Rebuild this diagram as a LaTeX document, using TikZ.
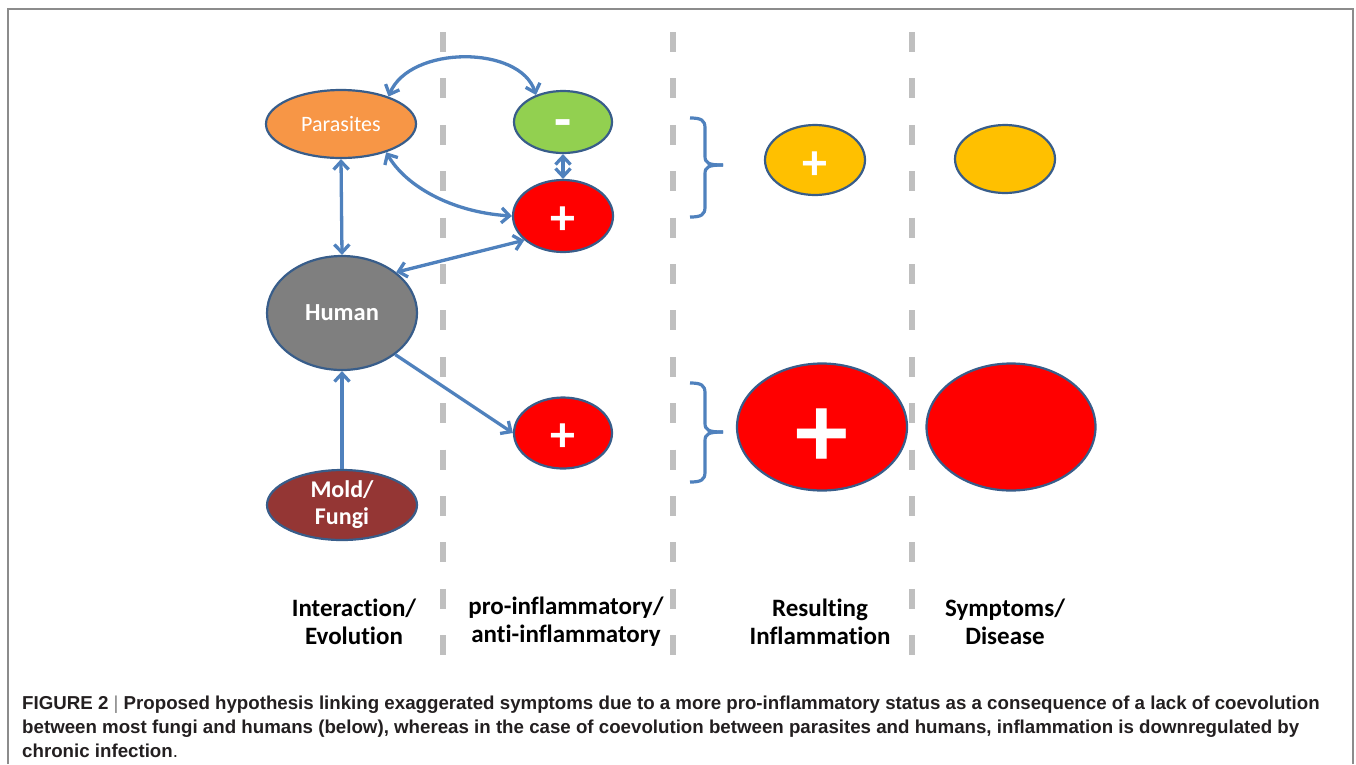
\documentclass[tikz,border=0pt]{standalone}
\usepackage{fontspec}
\setmainfont{Carlito}[Ligatures={NoCommon}]
\newfontfamily\capfont{Liberation Sans}
\usetikzlibrary{arrows.meta,shapes.geometric}
\definecolor{arrowblue}{HTML}{4F81BD}
\definecolor{outl}{HTML}{385D8A}
\definecolor{orangeP}{HTML}{F79646}
\definecolor{greenM}{HTML}{92D050}
\definecolor{redP}{HTML}{FF0000}
\definecolor{grayH}{HTML}{7F7F7F}
\definecolor{moldR}{HTML}{943634}
\definecolor{yellowP}{HTML}{FFC000}
\definecolor{dashgray}{HTML}{BFBFBF}
\definecolor{framegray}{HTML}{8C8C8C}
\definecolor{captext}{HTML}{231F20}
\newcommand{\plussign}[1]{\smash{\raisebox{#1}{+}}}
\newcommand{\minussign}[1]{\smash{\raisebox{#1}{-}}}
\tikzset{
  ell/.style={ellipse, draw=outl, line width=2.2pt, inner sep=0pt, text=white},
  conn/.style={draw=arrowblue, line width=3.3pt},
  tipb/.style={conn, {Straight Barb[length=8pt,width=15pt]}-{Straight Barb[length=8pt,width=15pt]}},
  tipe/.style={conn, -{Straight Barb[length=8pt,width=15pt]}},
  sep/.style={draw=dashgray, line width=6pt, dash pattern=on 20pt off 26.4pt},
  bracec/.style={draw=arrowblue, line width=3.2pt},
  lab/.style={align=center, inner sep=0pt, font=\fontsize{25}{28}\selectfont\bfseries, text=black},
  signs/.style={font=\fontsize{50}{50}\selectfont\bfseries},
  capline/.style={anchor=base west, inner sep=0pt, text=captext, font=\capfont\fontsize{18.7}{24}\selectfont\bfseries}
}
\begin{document}
\begin{tikzpicture}[x=1pt,y=-1pt]
\useasboundingbox (0,0) rectangle (1356,764);
% frame
\draw[framegray, line width=1.5pt] (8,764) -- (8,9) -- (1353,9) -- (1353,764);
% separators
\draw[sep] (443,32) -- (443,660);
\draw[sep] (673,32) -- (673,660);
\draw[sep] (912,32) -- (912,660);
% nodes
\node[ell, fill=orangeP, minimum width=150pt, minimum height=68pt, font=\fontsize{22}{22}\selectfont] (par) at (341,124) {Parasites};
\node[ell, fill=grayH, minimum width=150pt, minimum height=114pt, font=\fontsize{24.5}{25}\selectfont\bfseries] (hum) at (342,313) {Human};
\node[ell, fill=moldR, minimum width=150pt, minimum height=70pt, align=center, font=\fontsize{24}{27}\selectfont\bfseries] (mold) at (342,505) {Mold/\\Fungi};
\node[ell, fill=greenM, minimum width=98pt, minimum height=62pt, font=\fontsize{56}{56}\selectfont\bfseries] (neg) at (563,122) {\minussign{-0.29em}};
\node[ell, fill=redP, minimum width=100pt, minimum height=72pt, signs] (pos1) at (563,216) {\plussign{-0.36em}};
\node[ell, fill=redP, minimum width=98pt, minimum height=71pt, signs] (pos2) at (563,433) {\plussign{-0.36em}};
\node[ell, fill=yellowP, minimum width=100pt, minimum height=70pt, signs] (ypos) at (815,160) {\plussign{-0.38em}};
\node[ell, fill=yellowP, minimum width=100pt, minimum height=68pt] (ysym) at (1005,159) {};
\node[ell, fill=redP, minimum width=170pt, minimum height=127pt, font=\fontsize{106}{106}\selectfont\bfseries] (rpos) at (822,427) {\plussign{-0.38em}};
\node[ell, fill=redP, minimum width=169pt, minimum height=127pt] (rsym) at (1011,427) {};
% connectors
\draw[tipb] (neg.135) .. controls (520,45) and (410,45) .. (par.30);
\draw[tipb] (par.-32) .. controls (405,185) and (450,212) .. (pos1.west);
\draw[tipb] (neg.south) -- (pos1.north);
\draw[tipb] (par.south) -- (hum.north);
\draw[tipb] (hum.37) -- (pos1.212);
\draw[tipe] (hum.-38) -- (pos2.west);
\draw[tipe] (mold.north) -- (hum.south);
% braces
\draw[bracec] (690,118) .. controls (701,118) and (705,120) .. (705,128) -- (705,156)
  .. controls (705,163) and (708,165) .. (723,165);
\draw[bracec] (723,165) .. controls (708,165) and (705,167) .. (705,174) -- (705,207)
  .. controls (705,215) and (701,217) .. (690,217);
\draw[bracec] (690,383) .. controls (701,383) and (705,385) .. (705,393) -- (705,423)
  .. controls (705,430) and (708,432) .. (723,432);
\draw[bracec] (723,432) .. controls (708,432) and (705,434) .. (705,441) -- (705,472)
  .. controls (705,480) and (701,482) .. (690,482);
% column labels
\node[lab] (l1) at (354,622) {Interaction/\\Evolution};
\node[lab] (l2) at (566,622) {pro-inflammatory/\\anti-inflammatory};
\node[lab] (l3) at (820,622) {Resulting\\Inflammation};
\node[lab] (l4) at (1005,622) {Symptoms/\\Disease};
% caption
\node[capline] (c1) at (22,709) {FIGURE 2 {\mdseries\color{gray}|} Proposed hypothesis linking exaggerated symptoms due to a more pro-inflammatory status as a consequence of a lack of coevolution};
\node[capline] (c2) at (22,733) {between most fungi and humans (below), whereas in the case of coevolution between parasites and humans, inflammation is downregulated by};
\node[capline] (c3) at (22,757) {chronic infection{\mdseries .}};
\end{tikzpicture}
\end{document}
